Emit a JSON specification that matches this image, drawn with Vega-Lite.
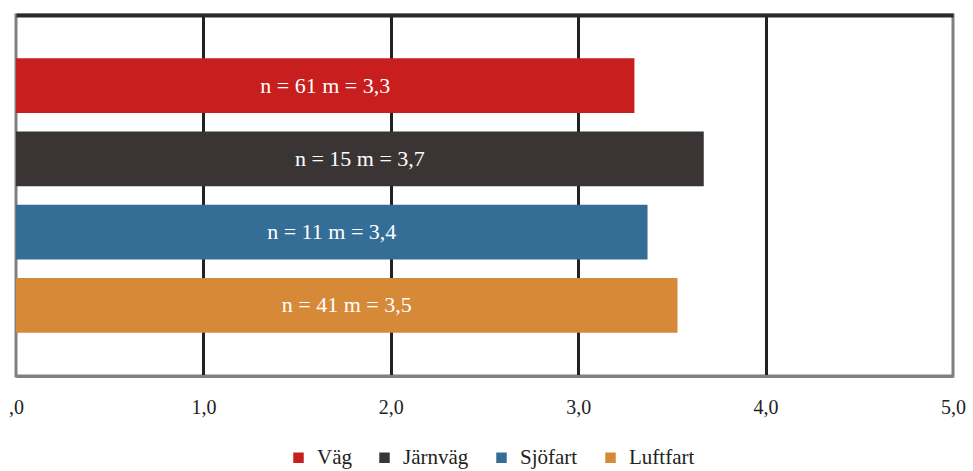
{
  "$schema": "https://vega.github.io/schema/vega-lite/v6.json",
  "width": 937,
  "height": 361,
  "autosize": {"type": "none"},
  "padding": {"left": 16, "top": 15, "right": 20, "bottom": 95},
  "background": "white",
  "config": {
    "font": "Liberation Serif",
    "view": {"stroke": "#808080", "strokeWidth": 3}
  },
  "data": {
    "values": [
      {"mode": "Väg", "n": 61, "m": 3.3, "label": "n = 61  m = 3,3"},
      {"mode": "Järnväg", "n": 15, "m": 3.67, "label": "n = 15  m = 3,7"},
      {"mode": "Sjöfart", "n": 11, "m": 3.37, "label": "n = 11  m = 3,4"},
      {"mode": "Luftfart", "n": 41, "m": 3.53, "label": "n = 41  m = 3,5"}
    ]
  },
  "encoding": {
    "y": {
      "field": "mode",
      "type": "nominal",
      "sort": ["Väg", "Järnväg", "Sjöfart", "Luftfart"],
      "scale": {"paddingInner": 0.25, "paddingOuter": 0.59},
      "axis": null
    }
  },
  "layer": [
    {
      "mark": {"type": "bar"},
      "encoding": {
        "x": {
          "field": "m",
          "type": "quantitative",
          "scale": {"domain": [0, 5], "nice": false},
          "axis": {
            "orient": "bottom",
            "values": [0, 1, 2, 3, 4, 5],
            "grid": false,
            "ticks": false,
            "domainColor": "#808080",
            "domainWidth": 3,
            "labelFontSize": 20,
            "labelColor": "#222222",
            "labelPadding": 21,
            "labelFlush": false,
            "labelExpr": "datum.value == 0 ? ',0' : replace(format(datum.value, '.1f'), '.', ',')",
            "title": null
          }
        },
        "color": {
          "field": "mode",
          "type": "nominal",
          "sort": ["Väg", "Järnväg", "Sjöfart", "Luftfart"],
          "scale": {
            "domain": ["Väg", "Järnväg", "Sjöfart", "Luftfart"],
            "range": ["#C81E1E", "#3A3435", "#346E96", "#D68A38"]
          },
          "legend": {
            "orient": "none",
            "legendX": 272,
            "legendY": 432,
            "direction": "horizontal",
            "title": null,
            "symbolType": "square",
            "symbolSize": 110,
            "symbolStrokeWidth": 0,
            "labelFontSize": 21,
            "labelColor": "#222222",
            "columnPadding": 22,
            "labelOffset": 8
          }
        }
      }
    },
    {
      "transform": [{"calculate": "datum.m / 2", "as": "mid"}],
      "mark": {"type": "text", "color": "white", "fontSize": 22},
      "encoding": {
        "x": {
          "field": "mid",
          "type": "quantitative",
          "axis": {
            "orient": "top",
            "values": [1, 2, 3, 4],
            "grid": true,
            "gridColor": "#222222",
            "gridWidth": 3,
            "gridOpacity": 1,
            "ticks": false,
            "labels": false,
            "domainColor": "#2a2a2a",
            "domainWidth": 4,
            "title": null
          }
        },
        "text": {"field": "label"}
      }
    }
  ],
  "resolve": {"axis": {"x": "independent"}}
}
